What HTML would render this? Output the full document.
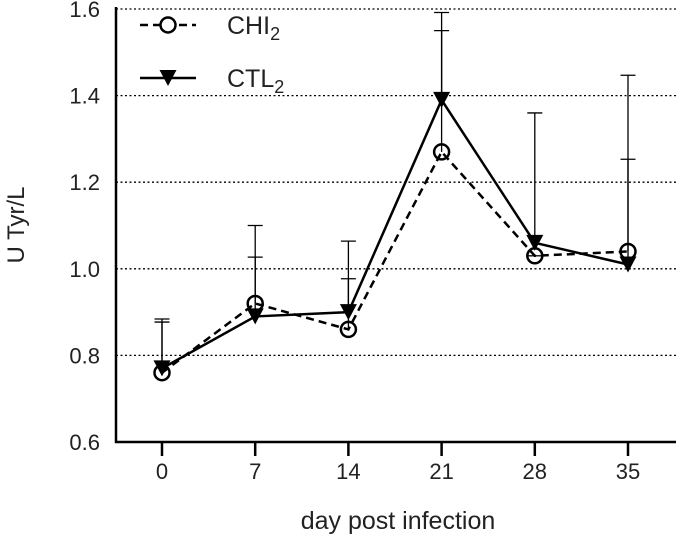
<!DOCTYPE html>
<html><head><meta charset="utf-8"><style>
body{margin:0;background:#fff}
svg{display:block;font-family:"Liberation Sans","DejaVu Sans",sans-serif}
</style></head><body>
<svg id="chart" width="680" height="536" viewBox="0 0 680 536"></svg>
<script>
const days=[0,7,14,21,28,35];
const chiValues=[0.76,0.92,0.86,1.27,1.03,1.04];
const ctlValues=[0.77,0.89,0.90,1.39,1.06,1.01];
const chiErrTop=[0.877,1.027,0.977,1.55,1.03,1.253];
const ctlErrTop=[0.884,1.10,1.064,1.592,1.36,1.447];
const yTicks=[0.6,0.8,1.0,1.2,1.4,1.6];
const yTickLabels=["0.6","0.8","1.0","1.2","1.4","1.6"];
const xTickLabels=["0","7","14","21","28","35"];

const svg=document.getElementById('chart');
const NS='http://www.w3.org/2000/svg';
const X0=116,X1=676,Y0=442,Y1=9;
function xs(d){return 162+(d/7)*93.2;}
function ys(v){return Y0-(v-0.6)/1.0*(Y0-Y1);}
function mk(t,a,p){const e=document.createElementNS(NS,t);for(const k in a)e.setAttribute(k,a[k]);(p||svg).appendChild(e);return e;}

yTicks.forEach((v,i)=>{
  if(i>0){const g=mk('line',{x1:X0,x2:X1,y1:ys(v),y2:ys(v),stroke:'#000','stroke-width':1.3,'stroke-dasharray':'2 2.5'});
  
  }
  const t=mk('text',{x:100,y:ys(v)+8,'text-anchor':'end','font-size':22,fill:'#222'});
  t.textContent=yTickLabels[i];
  
  
});
const ax=mk('path',{d:`M${X0} ${Y1-2}V${Y0}H${X1}`,fill:'none',stroke:'#000','stroke-width':2.5});


days.forEach((d,i)=>{
  const tk=mk('line',{x1:xs(d),x2:xs(d),y1:Y0,y2:Y0+14,stroke:'#000','stroke-width':2.5});
  
  
  const t=mk('text',{x:xs(d),y:479,'text-anchor':'middle','font-size':22,fill:'#222'});
  t.textContent=xTickLabels[i];
  
  
});
const yt=mk('text',{x:0,y:0,transform:'translate(24,225) rotate(-90)','text-anchor':'middle','font-size':24,fill:'#222'});
yt.textContent='U Tyr/L';


const xt=mk('text',{x:398,y:529,'text-anchor':'middle','font-size':25,fill:'#222'});
xt.textContent='day post infection';



function errBars(vals,tops,name){
  days.forEach((d,i)=>{
    const x=xs(d);
    const e=mk('path',{d:`M${x} ${ys(vals[i])}V${ys(tops[i])}M${x-7.5} ${ys(tops[i])}H${x+7.5}`,stroke:'#000','stroke-width':1.3,fill:'none'});
    
    
  });
}
errBars(chiValues,chiErrTop,'chi-error-bar');
errBars(ctlValues,ctlErrTop,'ctl-error-bar');

const lc=mk('polyline',{points:days.map((d,i)=>xs(d)+','+ys(ctlValues[i])).join(' '),fill:'none',stroke:'#000','stroke-width':2.5});


const lh=mk('polyline',{points:days.map((d,i)=>xs(d)+','+ys(chiValues[i])).join(' '),fill:'none',stroke:'#000','stroke-width':2.5,'stroke-dasharray':'8 5'});



function tri(x,y){return `${x-8.5},${y-8} ${x+8.5},${y-8} ${x},${y+8}`;}
days.forEach((d,i)=>{
  const t=mk('polygon',{points:tri(xs(d),ys(ctlValues[i])),fill:'#000'});
  
  
  const c=mk('circle',{cx:xs(d),cy:ys(chiValues[i]),r:7.5,fill:'none',stroke:'#000','stroke-width':2.5});
  
  
});

const lg=mk('g',{});


mk('line',{x1:140,x2:196,y1:25,y2:25,stroke:'#000','stroke-width':2.5,'stroke-dasharray':'8 5'},lg);
mk('circle',{cx:168,cy:25,r:7.5,fill:'#fff',stroke:'#000','stroke-width':2.5},lg);
const t1=mk('text',{x:227,y:34,'font-size':25,fill:'#222'},lg);
t1.innerHTML='CHI<tspan font-size="18" dy="6">2</tspan>';


mk('line',{x1:140,x2:196,y1:78,y2:78,stroke:'#000','stroke-width':2.5},lg);
mk('polygon',{points:tri(168,78),fill:'#000'},lg);
const t2=mk('text',{x:227,y:87,'font-size':25,fill:'#222'},lg);
t2.innerHTML='CTL<tspan font-size="18" dy="6">2</tspan>';


</script>
</body></html>
